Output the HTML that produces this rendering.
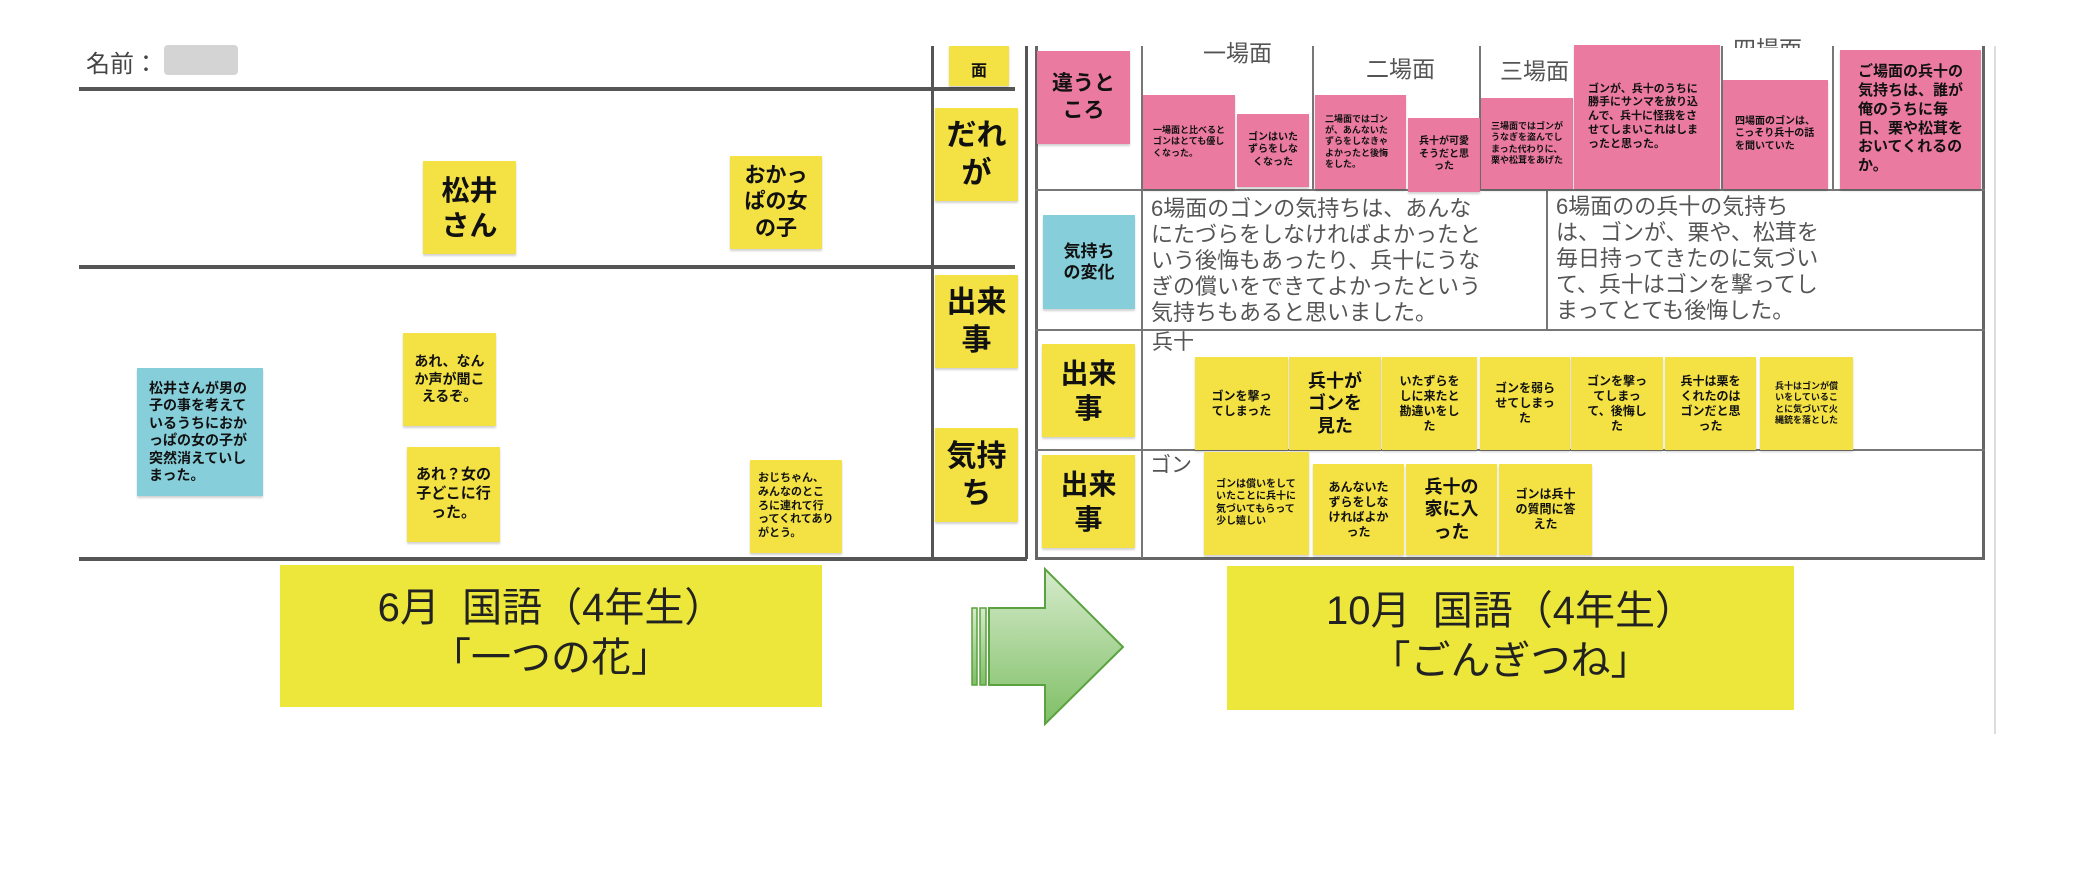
<!DOCTYPE html>
<html><head><meta charset="utf-8"><style>
*{margin:0;padding:0;box-sizing:border-box}
body{width:2073px;height:872px;background:#fff;position:relative;overflow:hidden;font-family:"Liberation Sans","Noto Sans CJK JP",sans-serif;color:#111}
.a{position:absolute}
.n{position:absolute;display:flex;align-items:center;justify-content:center;text-align:center;padding:14px;box-shadow:0 2px 2px rgba(0,0,0,.18);line-height:1.25;word-break:break-all;font-weight:bold}
.y{background:#f4e245}
.p{background:#ea7aa0}
.b{background:#86ceda}
.l{text-align:left;justify-content:flex-start}
.h{position:absolute;background:#555}
.g{position:absolute;background:#777}
.t{position:absolute;color:#555;font-size:23px;line-height:26px;font-weight:normal;white-space:nowrap}
</style></head><body>
<!-- left panel -->
<div class="a" style="left:86px;top:44px;font-size:24px;color:#444">名前：</div>
<div class="a" style="left:164px;top:45px;width:74px;height:30px;background:#d4d4d4;border-radius:4px"></div>
<div class="h" style="left:79px;top:87px;width:936px;height:4px"></div>
<div class="h" style="left:79px;top:265px;width:936px;height:4px"></div>
<div class="h" style="left:79px;top:557px;width:948px;height:4px"></div>
<div class="h" style="left:931px;top:46px;width:3px;height:513px"></div>
<div class="h" style="left:1025px;top:46px;width:3px;height:513px"></div>

<div class="n y" style="left:949px;top:46px;width:60px;height:40px;font-size:16px;align-items:flex-end;padding:4px">面</div>
<div class="n y" style="left:935px;top:108px;width:83px;height:93px;font-size:30px;padding:8px">だれが</div>
<div class="n y" style="left:935px;top:275px;width:83px;height:93px;font-size:30px;padding:8px">出来事</div>
<div class="n y" style="left:935px;top:428px;width:83px;height:94px;font-size:30px;padding:8px">気持ち</div>
<div class="n y" style="left:423px;top:161px;width:93px;height:93px;font-size:28px;padding:10px">松井さん</div>
<div class="n y" style="left:730px;top:156px;width:92px;height:93px;font-size:21px;padding:10px">おかっぱの女の子</div>
<div class="n y" style="left:403px;top:333px;width:93px;height:93px;font-size:14px;padding:9px">あれ、なんか声が聞こえるぞ。</div>
<div class="n y" style="left:407px;top:447px;width:93px;height:95px;font-size:15px;padding:8px">あれ？女の子どこに行った。</div>
<div class="n y l" style="left:750px;top:460px;width:92px;height:93px;font-size:11px;padding:8px">おじちゃん、みんなのところに連れて行ってくれてありがとう。</div>
<div class="n b l" style="left:137px;top:368px;width:126px;height:128px;font-size:14px;padding:12px">松井さんが男の子の事を考えているうちにおかっぱの女の子が突然消えていしまった。</div>

<!-- banners -->
<div class="a" style="left:280px;top:565px;width:542px;height:142px;background:#ece73a;text-align:center;font-size:40px;line-height:50px;padding-top:18px;color:#222">6月&nbsp;&nbsp;国語（4年生）<br>「一つの花」</div>
<div class="a" style="left:1227px;top:566px;width:567px;height:144px;background:#ece73a;text-align:center;font-size:40px;line-height:50px;padding-top:20px;color:#222">10月&nbsp;&nbsp;国語（4年生）<br>「ごんぎつね」</div>
<svg class="a" style="left:968px;top:566px" width="160" height="162">
<defs><linearGradient id="gr" x1="0" y1="0" x2="0" y2="1"><stop offset="0" stop-color="#d6ebcc"/><stop offset="1" stop-color="#7fbf66"/></linearGradient></defs>
<rect x="4" y="42" width="5" height="77" fill="url(#gr)" stroke="#5aa23f" stroke-width="1.5"/>
<rect x="12" y="42" width="6" height="77" fill="url(#gr)" stroke="#5aa23f" stroke-width="1.5"/>
<path d="M21 42 H77 V3 L155 81 L77 158 V119 H21 Z" fill="url(#gr)" stroke="#5aa23f" stroke-width="2"/>
</svg>
<div class="a" style="left:1994px;top:46px;width:2px;height:688px;background:#ddd"></div>

<!-- right panel -->
<div class="a" style="left:1035px;top:46px;width:950px;height:514px;border-left:3px solid #666;border-right:3px solid #666;border-bottom:3px solid #666"></div>
<div class="g" style="left:1035px;top:189px;width:950px;height:2px"></div>
<div class="g" style="left:1035px;top:329px;width:950px;height:2px"></div>
<div class="g" style="left:1035px;top:449px;width:950px;height:2px"></div>
<div class="g" style="left:1141px;top:46px;width:2px;height:512px"></div>
<div class="g" style="left:1312px;top:46px;width:2px;height:143px"></div>
<div class="g" style="left:1479px;top:46px;width:2px;height:143px"></div>
<div class="g" style="left:1721px;top:46px;width:2px;height:143px"></div>
<div class="g" style="left:1832px;top:46px;width:2px;height:143px"></div>
<div class="g" style="left:1546px;top:189px;width:2px;height:140px"></div>

<div class="t" style="left:1203px;top:40px">一場面</div>
<div class="t" style="left:1366px;top:56px">二場面</div>
<div class="t" style="left:1500px;top:58px">三場面</div>
<div class="t" style="left:1733px;top:36px;height:12px;overflow:hidden">四場面</div>

<div class="n p" style="left:1037px;top:51px;width:93px;height:93px;font-size:21px;padding:10px">違うところ</div>
<div class="n p l" style="left:1143px;top:95px;width:92px;height:94px;font-size:9px;padding:10px">一場面と比べるとゴンはとても優しくなった。</div>
<div class="n p" style="left:1237px;top:114px;width:72px;height:73px;font-size:10px;padding:10px">ゴンはいたずらをしなくなった</div>
<div class="n p l" style="left:1315px;top:95px;width:91px;height:94px;font-size:9px;padding:10px">二場面ではゴンが、あんないたずらをしなきゃよかったと後悔をした。</div>
<div class="n p" style="left:1408px;top:118px;width:72px;height:74px;font-size:10px;padding:10px">兵十が可愛そうだと思った</div>
<div class="n p l" style="left:1481px;top:98px;width:92px;height:91px;font-size:9px;padding:10px">三場面ではゴンがうなぎを盗んでしまった代わりに、栗や松茸をあげた</div>
<div class="n p l" style="left:1574px;top:45px;width:146px;height:144px;font-size:11px;padding:14px">ゴンが、兵十のうちに勝手にサンマを放り込んで、兵十に怪我をさせてしまいこれはしまったと思った。</div>
<div class="n p l" style="left:1723px;top:80px;width:105px;height:109px;font-size:10px;padding:12px">四場面のゴンは、こっそり兵十の話を聞いていた</div>
<div class="n p l" style="left:1840px;top:50px;width:141px;height:139px;font-size:15px;padding:14px 18px">ご場面の兵十の気持ちは、誰が俺のうちに毎日、栗や松茸をおいてくれるのか。</div>

<div class="n b" style="left:1043px;top:215px;width:92px;height:94px;font-size:17px;padding:14px">気持ちの変化</div>
<div class="t" style="left:1151px;top:196px;font-size:22px">6場面のゴンの気持ちは、あんな<br>にたづらをしなければよかったと<br>いう後悔もあったり、兵十にうな<br>ぎの償いをできてよかったという<br>気持ちもあると思いました。</div>
<div class="t" style="left:1556px;top:194px;font-size:22px">6場面のの兵十の気持ち<br>は、ゴンが、栗や、松茸を<br>毎日持ってきたのに気づい<br>て、兵十はゴンを撃ってし<br>まってとても後悔した。</div>

<div class="t" style="left:1152px;top:330px;font-size:21px">兵十</div>
<div class="n y" style="left:1042px;top:344px;width:93px;height:93px;font-size:28px;padding:14px">出来事</div>
<div class="n y" style="left:1195px;top:357px;width:93px;height:93px;font-size:12px;padding:16px">ゴンを撃ってしまった</div>
<div class="n y" style="left:1289px;top:357px;width:92px;height:93px;font-size:18px;padding:14px">兵十がゴンを見た</div>
<div class="n y" style="left:1382px;top:357px;width:95px;height:93px;font-size:12px;padding:16px">いたずらをしに来たと勘違いをした</div>
<div class="n y" style="left:1480px;top:357px;width:90px;height:93px;font-size:12px;padding:14px">ゴンを弱らせてしまった</div>
<div class="n y" style="left:1571px;top:357px;width:92px;height:93px;font-size:12px;padding:14px">ゴンを撃ってしまって、後悔した</div>
<div class="n y" style="left:1665px;top:357px;width:91px;height:93px;font-size:12px;padding:14px">兵十は栗をくれたのはゴンだと思った</div>
<div class="n y" style="left:1760px;top:357px;width:93px;height:93px;font-size:9px;padding:12px">兵十はゴンが償いをしていることに気づいて火縄銃を落とした</div>

<div class="t" style="left:1150px;top:453px;font-size:21px">ゴン</div>
<div class="n y" style="left:1042px;top:455px;width:93px;height:93px;font-size:28px;padding:14px">出来事</div>
<div class="n y l" style="left:1204px;top:452px;width:105px;height:103px;font-size:10px;padding:12px">ゴンは償いをしていたことに兵十に気づいてもらって少し嬉しい</div>
<div class="n y" style="left:1313px;top:464px;width:91px;height:91px;font-size:12px;padding:14px">あんないたずらをしなければよかった</div>
<div class="n y" style="left:1406px;top:464px;width:91px;height:91px;font-size:18px;padding:14px">兵十の家に入った</div>
<div class="n y" style="left:1499px;top:464px;width:93px;height:91px;font-size:12px;padding:14px">ゴンは兵十の質問に答えた</div>
</body></html>
